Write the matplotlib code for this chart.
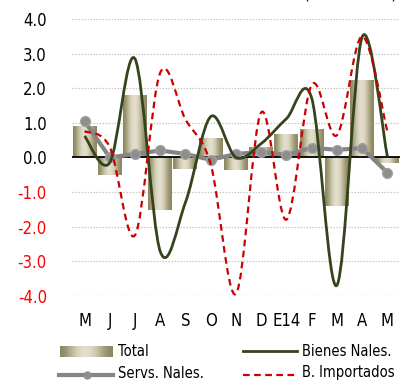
import numpy as np
import matplotlib
matplotlib.use("Agg")
import matplotlib.pyplot as plt
from matplotlib.path import Path
from matplotlib.patches import PathPatch
from matplotlib.lines import Line2D

plt.rcParams['font.family'] = ['DejaVu Sans']
plt.rcParams['font.stretch'] = 'condensed'

meses = ['M', 'J', 'J', 'A', 'S', 'O', 'N', 'D', 'E14', 'F', 'M', 'A', 'M']
total = [0.92, -0.50, 1.82, -1.53, -0.34, 0.55, -0.37, 0.29, 0.69, 0.81, -1.41, 2.23, -0.15]
servs_nales = [1.05, 0.0, 0.10, 0.20, 0.10, -0.07, 0.10, 0.16, 0.07, 0.28, 0.22, 0.27, -0.44]
bienes_nales = [0.62, -0.15, 2.85, -2.72, -1.30, 1.18, 0.0, 0.40, 1.12, 1.72, -3.70, 3.48, 0.03]
b_importados = [0.76, 0.30, -2.25, 2.45, 1.10, -0.20, -3.95, 1.30, -1.80, 2.10, 0.64, 3.50, 0.75]
yticks = [4, 3, 2, 1, 0, -1, -2, -3, -4]


def curva_suave(x, y):
    # excel-like smoothing: bezier control points from neighbours
    pts = np.column_stack([x, y]).astype(float)
    p = np.vstack([pts[0], pts, pts[-1]])
    verts = [pts[0]]
    codes = [Path.MOVETO]
    for i in range(1, len(p) - 2):
        c1 = p[i] + (p[i + 1] - p[i - 1]) / 6.0
        c2 = p[i + 1] - (p[i + 2] - p[i]) / 6.0
        verts += [c1, c2, p[i + 1]]
        codes += [Path.CURVE4] * 3
    return Path(verts, codes)


fig = plt.figure(figsize=(4.04, 3.83), dpi=100)
ax = fig.add_axes([0.178, 0.228, 0.812, 0.722])
x = np.arange(len(meses))

# grid
for v in yticks:
    if v == 0:
        ax.axhline(0, color='black', lw=1.3, zorder=3)
    else:
        ax.axhline(v, color='#c8c8c8', lw=0.9, ls=(0, (1.2, 1.2)), zorder=0)

# bars with gradient
grad = np.array([[0.0, 0.35, 0.7, 0.95, 1.0, 0.9, 0.6, 0.25, 0.0]])
cmap = matplotlib.colors.LinearSegmentedColormap.from_list('g', ['#8e8660', '#e4e0cc'])
bars = ax.bar(x, total, width=0.95, facecolor='none', edgecolor='none', zorder=2)
for b in bars:
    x0, y0 = b.get_x(), b.get_y()
    w, h = b.get_width(), b.get_height()
    im = ax.imshow(grad, cmap=cmap, aspect='auto', interpolation='bicubic',
                   extent=[x0, x0 + w, y0, y0 + h], zorder=2)
    im.set_clip_path(b)

ax.plot(x, servs_nales, color='#858585', lw=3, marker='o', ms=7,
        markerfacecolor='#8e8e8e', markeredgecolor='#a0a0a0', zorder=4)
ax.add_patch(PathPatch(curva_suave(x, bienes_nales), fc='none', ec='#34441c', lw=2, zorder=5))
ax.add_patch(PathPatch(curva_suave(x, b_importados), fc='none', ec='#cc0000', lw=1.6,
                       ls=(0, (3, 2)), zorder=6))

ax.set_xlim(-0.5, len(meses) - 0.5)
ax.set_ylim(-4, 4)
ax.set_xticks(x)
ax.set_xticklabels(meses, fontsize=12)
ax.set_yticks(yticks)
ax.set_yticklabels(['%.1f' % v for v in yticks], fontsize=12)
for t, v in zip(ax.get_yticklabels(), yticks):
    if v < 0:
        t.set_color('#ff0000')
ax.tick_params(axis='both', length=0)
ax.tick_params(axis='y', pad=18)
ax.tick_params(axis='x', pad=12)
for s in ax.spines.values():
    s.set_visible(False)

# title sits mostly above the picture, only the brackets show
fig.text(350 / 404, 1.0 + 1.3 / 383, '(Var. % m/m)', fontsize=11.5, ha='center', va='baseline')

# legend by hand
W, H = 404.0, 383.0
lax = fig.add_axes([60 / W, 1 - 357 / H, 53 / W, 11 / H])
lax.imshow(grad, cmap=cmap, aspect='auto', interpolation='bicubic')
lax.axis('off')
fig.text(118 / W, 1 - 351.5 / H, 'Total', fontsize=10.5, va='center')
fig.add_artist(Line2D([243 / W, 297 / W], [1 - 351 / H] * 2, color='#34441c', lw=2))
fig.text(302 / W, 1 - 351.5 / H, 'Bienes Nales.', fontsize=10.5, va='center')
fig.add_artist(Line2D([59 / W, 113 / W], [1 - 375 / H] * 2, color='#858585', lw=3))
fig.add_artist(Line2D([86.5 / W], [1 - 375 / H], color='#8e8e8e', marker='o', ms=5))
fig.text(118 / W, 1 - 373 / H, 'Servs. Nales.', fontsize=10.5, va='center')
fig.add_artist(Line2D([243 / W, 297 / W], [1 - 375 / H] * 2, color='#cc0000', lw=1.6,
                      ls=(0, (3, 2))))
fig.text(302 / W, 1 - 373 / H, 'B. Importados', fontsize=10.5, va='center')

fig.savefig('out.png', dpi=100)
